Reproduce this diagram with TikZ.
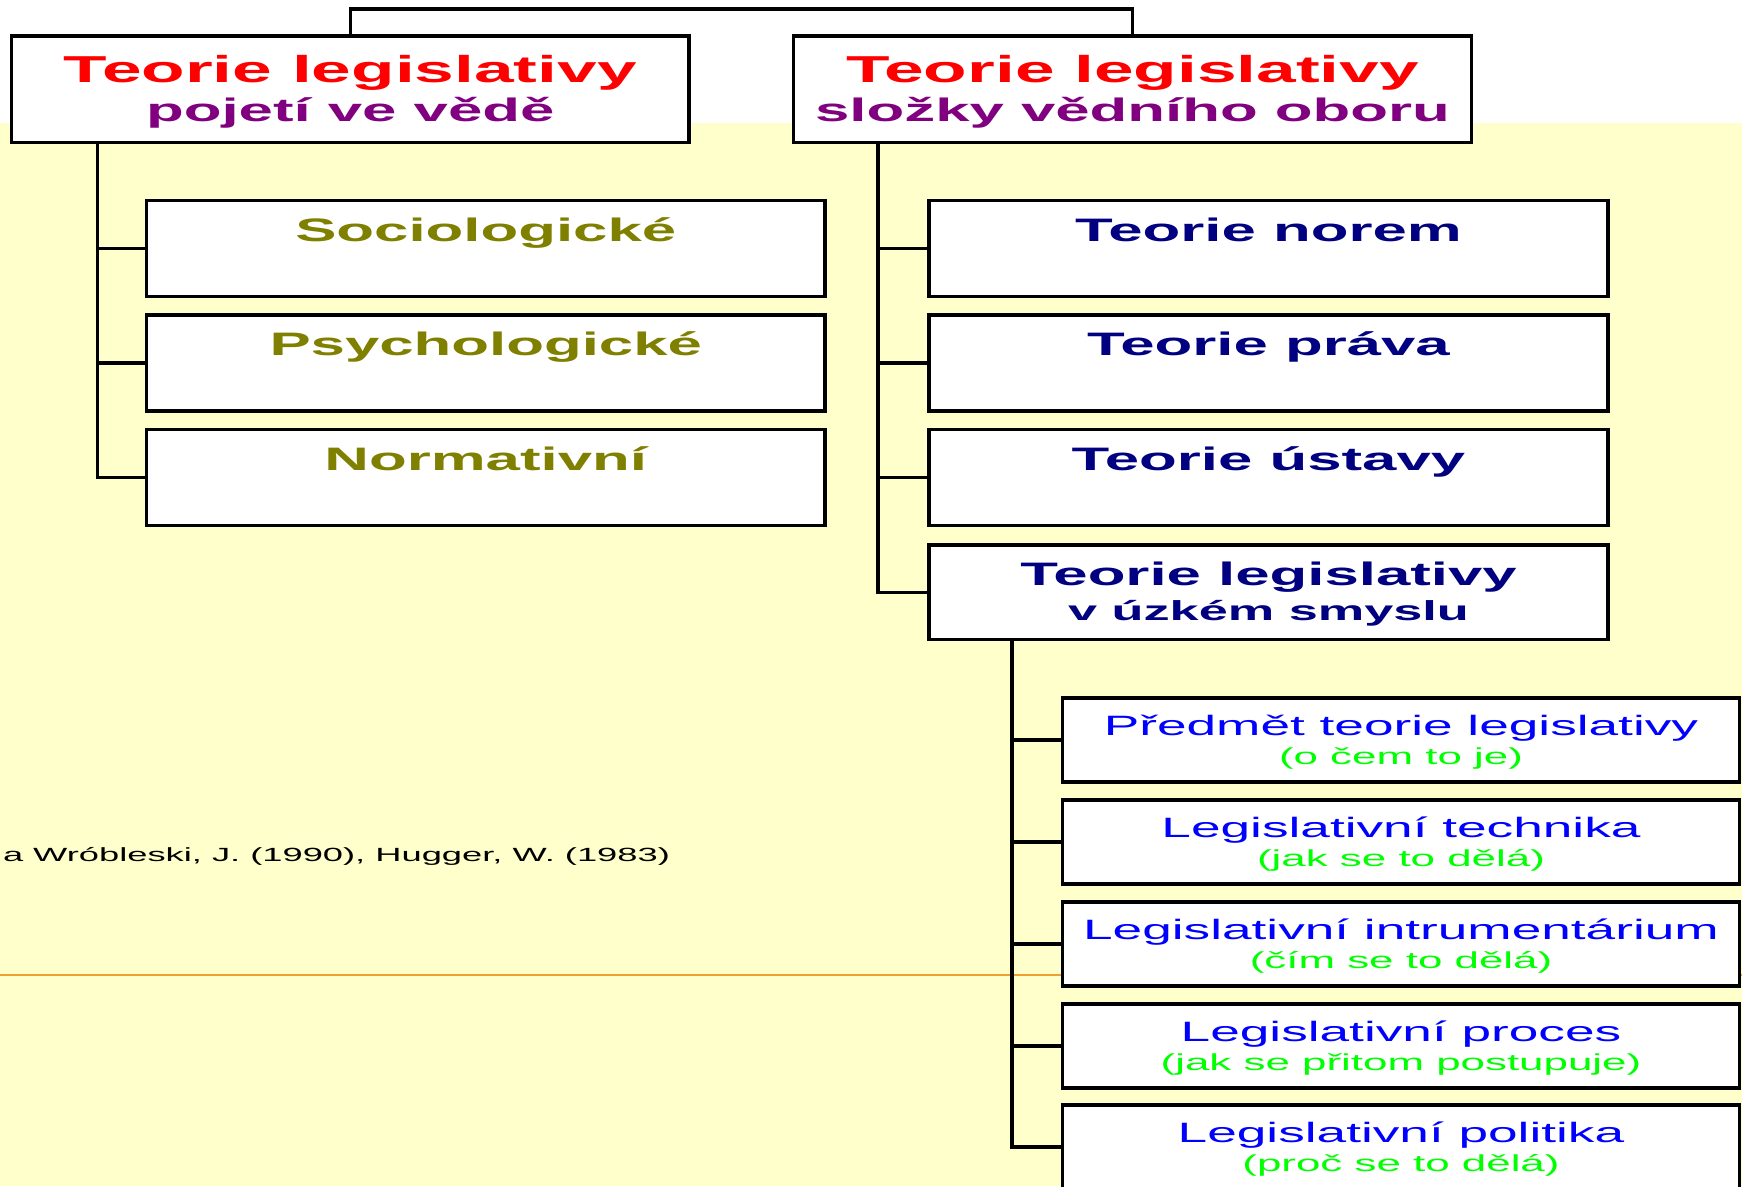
\documentclass[tikz,border=0pt]{standalone}
\usepackage{fontspec}
\setmainfont{Liberation Sans}[FakeStretch=1.9]
\definecolor{tred}{HTML}{FF0000}
\definecolor{tpurple}{HTML}{800080}
\definecolor{tolive}{HTML}{808000}
\definecolor{tnavy}{HTML}{000080}
\definecolor{tblue}{HTML}{0000FF}
\definecolor{tgreen}{HTML}{00FF00}
\definecolor{bgyellow}{HTML}{FFFFCC}
\definecolor{orangeline}{HTML}{F0A030}
\begin{document}
\begin{tikzpicture}[x=1pt,y=-1pt,
  box/.style={draw=black, line width=3.1pt, fill=white, rectangle, inner sep=0pt, outer sep=0pt, anchor=north west},
  conn/.style={draw=black, line width=3.1pt},
  lbl/.style={inner sep=0pt, outer sep=0pt, anchor=base},
  titlefont/.style={font=\bfseries\fontsize{37.5}{40}\selectfont},
  subfont/.style={font=\bfseries\fontsize{32.5}{35}\selectfont},
  childfont/.style={font=\bfseries\fontsize{32.5}{35}\selectfont},
  pfontA/.style={font=\fontsize{28}{30}\selectfont},
  pfontB/.style={font=\fontsize{23.1}{25}\selectfont},
]
\path[use as bounding box] (0,0) rectangle (1742,1186);
\begin{scope}
\clip (0,0) rectangle (1742,1186);
\fill[white] (0,0) rectangle (1742,1186);
\fill[bgyellow] (0,123) rectangle (1742,1186);
\draw[orangeline, line width=2.4pt] (0,975) -- (1742,975);

% top boxes
\node[box, minimum width=677.5pt, minimum height=106.5pt] (lt) at (11.5,36) {};
\node[box, minimum width=678pt, minimum height=106.5pt] (rt) at (793.5,36) {};

% left children
\node[box, minimum width=678.5pt, minimum height=96pt] (s1) at (146.5,200.7) {};
\node[box, minimum width=678.5pt, minimum height=96pt] (s2) at (146.5,315) {};
\node[box, minimum width=678.5pt, minimum height=96pt] (s3) at (146.5,429.5) {};

% right children
\node[box, minimum width=679pt, minimum height=96pt] (t1) at (929,200.7) {};
\node[box, minimum width=679pt, minimum height=96pt] (t2) at (929,315) {};
\node[box, minimum width=679pt, minimum height=96pt] (t3) at (929,429.5) {};
\node[box, minimum width=679pt, minimum height=94.3pt] (t4) at (929,545) {};

% sub children
\node[box, minimum width=677pt, minimum height=84pt] (p1) at (1062.5,698) {};
\node[box, minimum width=677pt, minimum height=84pt] (p2) at (1062.5,800) {};
\node[box, minimum width=677pt, minimum height=84pt] (p3) at (1062.5,902) {};
\node[box, minimum width=677pt, minimum height=84pt] (p4) at (1062.5,1004) {};
\node[box, minimum width=677pt, minimum height=84pt] (p5) at (1062.5,1105) {};

% connectors
\coordinate (tc) at (741,9);
\draw[conn] (lt.north) -- (lt.north |- tc) -| (rt.north);

\coordinate (lb) at ([xshift=86pt]lt.south west);
\draw[conn] (lb) |- (s3.west);
\draw[conn] (lb |- s1.west) -- (s1.west);
\draw[conn] (lb |- s2.west) -- (s2.west);

\coordinate (rb) at ([xshift=84.5pt]rt.south west);
\draw[conn] (rb) |- (t4.west);
\draw[conn] (rb |- t1.west) -- (t1.west);
\draw[conn] (rb |- t2.west) -- (t2.west);
\draw[conn] (rb |- t3.west) -- (t3.west);

\coordinate (pb) at ([xshift=83pt]t4.south west);
\draw[conn] (pb) |- (p5.west);
\draw[conn] (pb |- p1.west) -- (p1.west);
\draw[conn] (pb |- p2.west) -- (p2.west);
\draw[conn] (pb |- p3.west) -- (p3.west);
\draw[conn] (pb |- p4.west) -- (p4.west);

% texts
\node[lbl, titlefont, text=tred] (ltA) at ([yshift=-46.3pt]lt.north) {Teorie legislativy};
\node[lbl, subfont, text=tpurple] (ltB) at ([yshift=-85.5pt]lt.north) {pojetí ve vědě};
\node[lbl, titlefont, text=tred] (rtA) at ([yshift=-46.3pt]rt.north) {Teorie legislativy};
\node[lbl, subfont, text=tpurple] (rtB) at ([yshift=-85.5pt]rt.north) {složky vědního oboru};

\node[lbl, childfont, text=tolive] (s1A) at ([yshift=-40.5pt]s1.north) {Sociologické};
\node[lbl, childfont, text=tolive] (s2A) at ([yshift=-40.5pt]s2.north) {Psychologické};
\node[lbl, childfont, text=tolive] (s3A) at ([yshift=-40.5pt]s3.north) {Normativní};

\node[lbl, childfont, text=tnavy] (t1A) at ([yshift=-40.5pt]t1.north) {Teorie norem};
\node[lbl, childfont, text=tnavy] (t2A) at ([yshift=-40.5pt]t2.north) {Teorie práva};
\node[lbl, childfont, text=tnavy] (t3A) at ([yshift=-40.5pt]t3.north) {Teorie ústavy};
\node[lbl, childfont, text=tnavy] (t4A) at ([yshift=-40pt]t4.north) {Teorie legislativy};
\node[lbl, text=tnavy, font=\bfseries\fontsize{27.5}{30}\selectfont] (t4B) at ([yshift=-75pt]t4.north) {v úzkém smyslu};

\node[lbl, pfontA, text=tblue] (p1A) at ([yshift=-37pt]p1.north) {Předmět teorie legislativy};
\node[lbl, pfontB, text=tgreen] (p1B) at ([yshift=-66pt]p1.north) {(o čem to je)};
\node[lbl, pfontA, text=tblue] (p2A) at ([yshift=-37pt]p2.north) {Legislativní technika};
\node[lbl, pfontB, text=tgreen] (p2B) at ([yshift=-66pt]p2.north) {(jak se to dělá)};
\node[lbl, pfontA, text=tblue] (p3A) at ([yshift=-37pt]p3.north) {Legislativní intrumentárium};
\node[lbl, pfontB, text=tgreen] (p3B) at ([yshift=-66pt]p3.north) {(čím se to dělá)};
\node[lbl, pfontA, text=tblue] (p4A) at ([yshift=-37pt]p4.north) {Legislativní proces};
\node[lbl, pfontB, text=tgreen] (p4B) at ([yshift=-66pt]p4.north) {(jak se přitom postupuje)};
\node[lbl, pfontA, text=tblue] (p5A) at ([yshift=-37pt]p5.north) {Legislativní politika};
\node[lbl, pfontB, text=tgreen] (p5B) at ([yshift=-66pt]p5.north) {(proč se to dělá)};

\node[lbl, anchor=base west, font=\fontsize{19.1}{21}\selectfont] (cite) at (3,861.5) {a Wróbleski, J. (1990), Hugger, W. (1983)};
\end{scope}
\end{tikzpicture}
\end{document}
